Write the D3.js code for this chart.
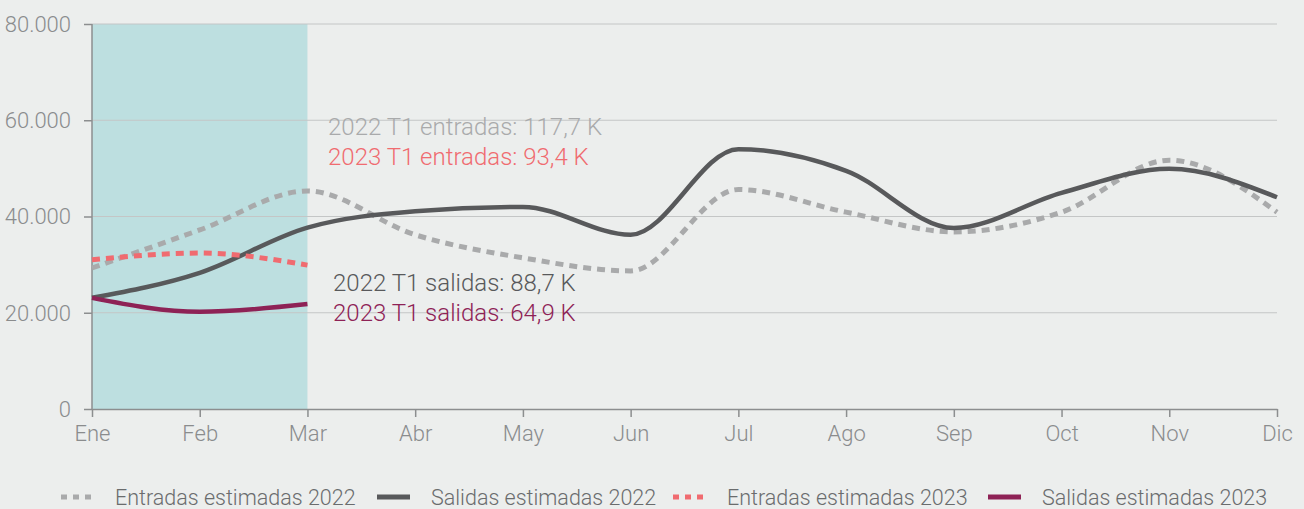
<!DOCTYPE html>
<html>
<head>
<meta charset="utf-8">
<script src="https://cdn.jsdelivr.net/npm/d3@7"></script>
<style>
  html, body { margin: 0; padding: 0; background: #eceeed; }
  svg { display: block; font-family: Roboto, "Open Sans", sans-serif; font-weight: 300; }
</style>
</head>
<body>
<div id="chart"></div>
<script>
// Data
var months = ["Ene", "Feb", "Mar", "Abr", "May", "Jun", "Jul", "Ago", "Sep", "Oct", "Nov", "Dic"];
var entradas2022 = [29300, 37200, 45300, 36200, 31400, 28700, 45600, 40900, 36800, 40900, 51700, 40900];
var salidas2022 = [23100, 28300, 37700, 41100, 42000, 36200, 54000, 49500, 37600, 44900, 49900, 44000];
var entradas2023 = [31000, 32400, 29900];
var salidas2023 = [23100, 20200, 21800];
var yTicks = [0, 20000, 40000, 60000, 80000];
var notes = [
    { text: "2022 T1 entradas: 117,7 K", color: "#a9aaab", x: 328, y: 135 },
    { text: "2023 T1 entradas: 93,4 K", color: "#f06b70", x: 328, y: 165 },
    { text: "2022 T1 salidas: 88,7 K", color: "#58595b", x: 333, y: 291 },
    { text: "2023 T1 salidas: 64,9 K", color: "#8e2256", x: 333, y: 321 }
];

var width = 1304, height = 509;
var margin = { top: 24, right: 27, bottom: 100, left: 92 };

var svg = d3.select("#chart")
    .append("svg")
    .attr("width", width)
    .attr("height", height);

var x = d3.scalePoint()
    .domain(months)
    .range([margin.left, width - margin.right]);

var y = d3.scaleLinear()
    .domain([0, 80000])
    .range([height - margin.bottom, margin.top]);

var fmt = function(d) { return d3.format(",")(d).replace(/,/g, "."); };

// shaded first quarter
svg.append("rect")
    .attr("x", x("Ene"))
    .attr("y", y(80000))
    .attr("width", x("Mar") - x("Ene"))
    .attr("height", y(0) - y(80000))
    .attr("fill", "#bddfe0");

// gridlines
svg.append("g")
    .selectAll("line")
    .data(yTicks.filter(function(d) { return d > 0; }))
    .enter()
    .append("line")
    .attr("x1", x("Ene"))
    .attr("x2", x("Dic"))
    .attr("y1", function(d) { return y(d); })
    .attr("y2", function(d) { return y(d); })
    .attr("stroke", "#c4c6c6")
    .attr("stroke-width", 1);

// axes
var yAxis = svg.append("g")
    .attr("transform", "translate(" + margin.left + ",0)")
    .call(d3.axisLeft(y).tickValues(yTicks).tickFormat(fmt).tickSize(8).tickPadding(13));

var xAxis = svg.append("g")
    .attr("transform", "translate(0," + y(0) + ")")
    .call(d3.axisBottom(x).tickSize(8).tickPadding(8).tickSizeOuter(0));

[yAxis, xAxis].forEach(function(ax) {
    ax.select(".domain").attr("stroke", "#8c8e8f").attr("stroke-width", 1.5);
    ax.selectAll(".tick line").attr("stroke", "#8c8e8f").attr("stroke-width", 1.5);
    ax.selectAll(".tick text")
        .attr("fill", "#8a8c8d")
        .style("font-size", "22px")
        .style("font-family", "Roboto, sans-serif")
        .style("font-weight", 300);
});
yAxis.select(".domain").attr("d", "M0," + y(0) + "V" + y(80000));
yAxis.selectAll(".tick text").attr("dy", "0.34em");

// lines
var line = d3.line()
    .x(function(d, i) { return x(months[i]); })
    .y(function(d) { return y(d); })
    .curve(d3.curveMonotoneX);

var series = [
    { values: entradas2022, color: "#a9aaab", dash: "8,6" },
    { values: salidas2022, color: "#58595b", dash: null },
    { values: entradas2023, color: "#f06b70", dash: "8,6" },
    { values: salidas2023, color: "#8e2256", dash: null }
];

svg.append("g")
    .selectAll("path")
    .data(series)
    .enter()
    .append("path")
    .attr("d", function(d) { return line(d.values); })
    .attr("fill", "none")
    .attr("stroke", function(d) { return d.color; })
    .attr("stroke-width", function(d) { return d.dash ? 5 : 4.5; })
    .attr("stroke-dasharray", function(d) { return d.dash; });

// annotations
svg.append("g")
    .selectAll("text")
    .data(notes)
    .enter()
    .append("text")
    .attr("x", function(d) { return d.x; })
    .attr("y", function(d) { return d.y; })
    .attr("fill", function(d) { return d.color; })
    .style("font-size", "24px")
    .text(function(d) { return d.text; });

// legend
var legend = [
    { label: "Entradas estimadas 2022", color: "#a9aaab", dash: "6,6", sx: 61 },
    { label: "Salidas estimadas 2022", color: "#58595b", dash: null, sx: 377 },
    { label: "Entradas estimadas 2023", color: "#f06b70", dash: "6,6", sx: 673 },
    { label: "Salidas estimadas 2023", color: "#8e2256", dash: null, sx: 988 }
];

var lg = svg.append("g")
    .selectAll("g")
    .data(legend)
    .enter()
    .append("g")
    .attr("transform", function(d) { return "translate(" + d.sx + ",497)"; });

lg.append("line")
    .attr("x1", 0)
    .attr("x2", 33)
    .attr("stroke", function(d) { return d.color; })
    .attr("stroke-width", 5)
    .attr("stroke-dasharray", function(d) { return d.dash; });

lg.append("text")
    .attr("x", 54)
    .attr("dy", "0.35em")
    .attr("fill", "#6a6c6d")
    .style("font-size", "21.5px")
    .text(function(d) { return d.label; });
</script>
</body>
</html>
